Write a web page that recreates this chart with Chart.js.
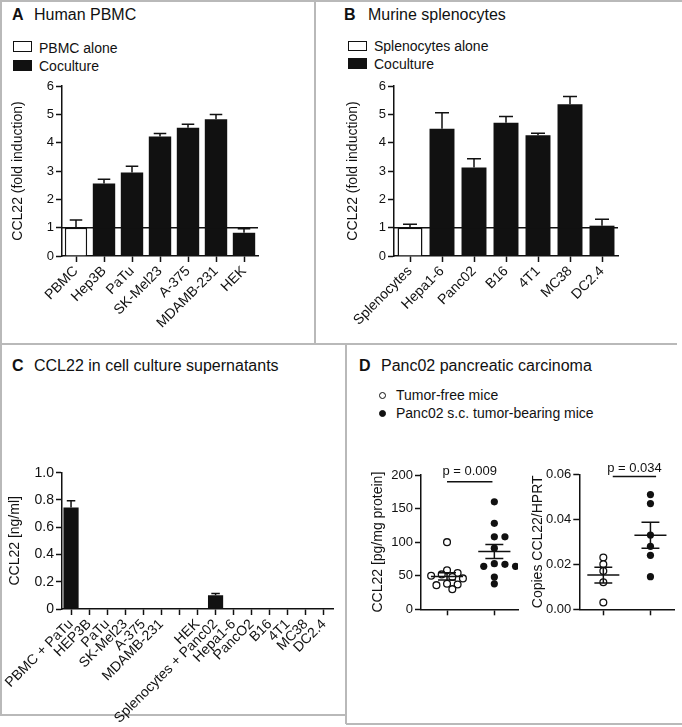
<!DOCTYPE html>
<html><head><meta charset="utf-8">
<script src="https://cdn.jsdelivr.net/npm/chart.js@4.4.1/dist/chart.umd.min.js"></script>
<style>
html,body{margin:0;padding:0;background:#fff;}
#fig{position:relative;width:682px;height:727px;overflow:hidden;font-family:'Liberation Sans',Arial,sans-serif;color:#111;}
canvas{position:absolute;}
.t{position:absolute;white-space:nowrap;}
.h{font-size:16px;line-height:16px;}
.l{font-size:14px;line-height:14px;}
.rule{position:absolute;background:#b9b9b9;}
.sw{position:absolute;box-sizing:border-box;border:1.5px solid #111;}
.dot{position:absolute;box-sizing:border-box;border:1.3px solid #111;border-radius:50%;width:7px;height:7px;}
</style></head><body>
<div id="fig">
  <div class="rule" style="left:0;top:0;width:682px;height:1.5px"></div>
  <div class="rule" style="left:0;top:0;width:1.5px;height:715px"></div>
  <div class="rule" style="left:314px;top:0;width:1.5px;height:344px"></div>
  <div class="rule" style="left:0;top:343px;width:677px;height:1.5px"></div>
  <div class="rule" style="left:345px;top:344px;width:1.5px;height:380px"></div>
  <div class="rule" style="left:0;top:714px;width:346px;height:1.5px"></div>
  <div class="rule" style="left:346px;top:723px;width:336px;height:1.5px"></div>

  <div class="t h" style="left:12px;top:7px;font-weight:bold">A</div>
  <div class="t h" style="left:34px;top:7px">Human PBMC</div>
  <div class="sw" style="left:13px;top:41px;width:19px;height:11px;background:#fff"></div>
  <div class="t l" style="left:39px;top:40.5px">PBMC alone</div>
  <div class="sw" style="left:13px;top:60px;width:19px;height:11px;background:#111"></div>
  <div class="t l" style="left:39px;top:58.8px">Coculture</div>

  <div class="t h" style="left:344px;top:6.5px;font-weight:bold">B</div>
  <div class="t h" style="left:368px;top:6.5px">Murine splenocytes</div>
  <div class="sw" style="left:348px;top:41px;width:19px;height:10px;background:#fff"></div>
  <div class="t l" style="left:374px;top:38.5px">Splenocytes alone</div>
  <div class="sw" style="left:348px;top:58px;width:19px;height:11px;background:#111"></div>
  <div class="t l" style="left:374px;top:56.5px">Coculture</div>

  <div class="t h" style="left:12px;top:358px;font-weight:bold">C</div>
  <div class="t h" style="left:34px;top:358px">CCL22 in cell culture supernatants</div>

  <div class="t h" style="left:359px;top:358px;font-weight:bold">D</div>
  <div class="t h" style="left:381px;top:358px">Panc02 pancreatic carcinoma</div>
  <div class="dot" style="left:378.5px;top:392.2px;background:#fff"></div>
  <div class="t l" style="left:396px;top:388.2px">Tumor-free mice</div>
  <div class="dot" style="left:378.5px;top:409.8px;background:#111"></div>
  <div class="t l" style="left:396px;top:405.5px">Panc02 s.c. tumor-bearing mice</div>

  <canvas id="cA" width="315" height="274" style="left:0;top:70px;width:315px;height:274px"></canvas>
  <canvas id="cB" width="352" height="274" style="left:330px;top:70px;width:352px;height:274px"></canvas>
  <canvas id="cC" width="346" height="277" style="left:0;top:450px;width:346px;height:277px"></canvas>
  <canvas id="cD1" width="170" height="180" style="left:355px;top:455px;width:170px;height:180px"></canvas>
  <canvas id="cD2" width="157" height="180" style="left:525px;top:455px;width:157px;height:180px"></canvas>
</div>
<script>
// ---------- data ----------
const aCategories   = ['PBMC','Hep3B','PaTu','SK-Mel23','A-375','MDAMB-231','HEK'];
const aAlone        = [1.00, null, null, null, null, null, null];
const aAloneErr     = [0.27, null, null, null, null, null, null];
const aCoculture    = [null, 2.56, 2.95, 4.22, 4.53, 4.83, 0.82];
const aCocultureErr = [null, 0.15, 0.22, 0.10, 0.12, 0.16, 0.14];
const foldTicks     = ['0','1','2','3','4','5','6'];
const foldBaseline  = 1;

const bCategories   = ['Splenocytes','Hepa1-6','Panc02','B16','4T1','MC38','DC2.4'];
const bAlone        = [1.00, null, null, null, null, null, null];
const bAloneErr     = [0.12, null, null, null, null, null, null];
const bCoculture    = [null, 4.49, 3.12, 4.70, 4.26, 5.36, 1.07];
const bCocultureErr = [null, 0.57, 0.31, 0.22, 0.07, 0.27, 0.23];

const cCategories = ['PBMC + PaTu','HEP3B','PaTu','SK-Mel23','A-375','MDAMB-231','','HEK',
                     'Splenocytes + Panc02','Hepa1-6','PancO2','B16','4T1','MC38','DC2.4'];
const cValues     = [0.745, null, null, null, null, null, null, null, 0.100, null, null, null, null, null, null];
const cErrors     = [0.050, null, null, null, null, null, null, null, 0.013, null, null, null, null, null, null];
const cTicks      = ['0','0.2','0.4','0.6','0.8','1.0'];

const dGroups        = ['Tumor-free mice','Panc02 s.c. tumor-bearing mice'];
const d1TumorFree    = [100, 58, 54, 52, 50, 48, 46, 38, 37, 36, 30];
const d1TumorBearing = [160, 128, 108, 108, 91, 68, 67, 64, 64, 48, 38];
const d1Mean         = [49, 86];
const d1Sem          = [5.5, 10.5];
const d1Ticks        = ['0','50','100','150','200'];
const d1PText        = 'p = 0.009';
const d1BracketY     = 190;

const d2TumorFree    = [0.023, 0.020, 0.017, 0.012, 0.003];
const d2TumorBearing = [0.051, 0.047, 0.033, 0.028, 0.024, 0.0145];
const d2Mean         = [0.0152, 0.0329];
const d2Sem          = [0.0035, 0.0058];
const d2Ticks        = ['0.00','0.02','0.04','0.06'];
const d2PText        = 'p = 0.034';
const d2BracketY     = 0.059;

// ---------- setup ----------
const INK = '#111';
const FONT = "'Liberation Sans', Arial, sans-serif";
Chart.defaults.font.family = FONT;
Chart.defaults.color = INK;

const errorBars = {
  id: 'errorBars',
  afterDatasetsDraw(chart) {
    const ctx = chart.ctx, ys = chart.scales.y;
    chart.data.datasets.forEach((ds, i) => {
      if (!ds.errors) return;
      const meta = chart.getDatasetMeta(i);
      meta.data.forEach((bar, j) => {
        const v = ds.data[j], e = ds.errors[j];
        if (v == null || e == null) return;
        const x = bar.x, y0 = ys.getPixelForValue(v), y1 = ys.getPixelForValue(v + e);
        const hw = bar.width * 0.28;
        ctx.save();
        ctx.strokeStyle = INK; ctx.lineWidth = 1.5;
        ctx.beginPath();
        ctx.moveTo(x, y0); ctx.lineTo(x, y1);
        ctx.moveTo(x - hw, y1); ctx.lineTo(x + hw, y1);
        ctx.stroke();
        ctx.restore();
      });
    });
  }
};

const refLine = {
  id: 'refLine',
  afterDatasetsDraw(chart, args, opts) {
    if (opts.value == null) return;
    const ctx = chart.ctx, ys = chart.scales.y, a = chart.chartArea;
    const y = ys.getPixelForValue(opts.value);
    ctx.save();
    ctx.strokeStyle = INK; ctx.lineWidth = 1.5;
    ctx.beginPath(); ctx.moveTo(a.left, y); ctx.lineTo(a.right, y); ctx.stroke();
    ctx.restore();
  }
};

const meanSem = {
  id: 'meanSem',
  afterDatasetsDraw(chart, args, opts) {
    if (!opts.means) return;
    const ctx = chart.ctx, xs = chart.scales.x, ys = chart.scales.y;
    ctx.save();
    ctx.strokeStyle = INK; ctx.lineWidth = 1.5;
    opts.means.forEach((m, i) => {
      const c = i + 1, s = opts.sems[i];
      const ym = ys.getPixelForValue(m), yt = ys.getPixelForValue(m + s), yb = ys.getPixelForValue(m - s);
      ctx.beginPath();
      ctx.moveTo(xs.getPixelForValue(c - 0.34), ym); ctx.lineTo(xs.getPixelForValue(c + 0.34), ym);
      ctx.moveTo(xs.getPixelForValue(c), yt); ctx.lineTo(xs.getPixelForValue(c), yb);
      ctx.moveTo(xs.getPixelForValue(c - 0.19), yt); ctx.lineTo(xs.getPixelForValue(c + 0.19), yt);
      ctx.moveTo(xs.getPixelForValue(c - 0.19), yb); ctx.lineTo(xs.getPixelForValue(c + 0.19), yb);
      ctx.stroke();
    });
    ctx.restore();
  }
};

const pBracket = {
  id: 'pBracket',
  afterDraw(chart, args, opts) {
    if (!opts.text) return;
    const ctx = chart.ctx, xs = chart.scales.x, ys = chart.scales.y;
    const y = ys.getPixelForValue(opts.y);
    const x0 = xs.getPixelForValue(opts.x0), x1 = xs.getPixelForValue(opts.x1);
    ctx.save();
    ctx.strokeStyle = INK; ctx.lineWidth = 1.5;
    ctx.beginPath(); ctx.moveTo(x0, y); ctx.lineTo(x1, y); ctx.stroke();
    ctx.fillStyle = INK; ctx.font = '13px ' + FONT;
    ctx.textAlign = 'center'; ctx.textBaseline = 'alphabetic';
    ctx.fillText(opts.text, (x0 + x1) / 2, y - opts.gap);
    ctx.restore();
  }
};

function yAxis(o) {
  return {
    min: o.min, max: o.max,
    grid: { display: true, drawOnChartArea: false, drawTicks: true, tickLength: 6, tickWidth: 1.5, tickColor: INK },
    border: { display: true, color: INK, width: 1.5 },
    ticks: { stepSize: o.step, color: INK, font: { size: o.size || 13 }, padding: 2,
             callback: (v, i) => o.labels[i] },
    title: { display: true, text: o.title, color: INK, font: { size: 14 }, padding: { top: o.tpad, bottom: 0 } },
    afterFit: s => { s.width = o.width; }
  };
}
function xCat(height, size) {
  return {
    grid: { display: true, drawOnChartArea: false, drawTicks: true, tickLength: 6, tickWidth: 1.5, tickColor: INK, offset: false },
    border: { display: true, color: INK, width: 1.5 },
    ticks: { color: INK, font: { size: size }, minRotation: 45, maxRotation: 45, autoSkip: false, padding: 1 },
    afterFit: s => { s.height = height; }
  };
}
function barDs(label, data, errors, fill, bw, bp) {
  return { label, data, errors, backgroundColor: fill, borderColor: INK, borderWidth: bw,
           borderSkipped: 'start', grouped: false, barPercentage: bp, categoryPercentage: 1 };
}
const base = { responsive: false, animation: false, devicePixelRatio: 1 };

// ---------- A ----------
new Chart(document.getElementById('cA'), {
  type: 'bar',
  data: { labels: aCategories, datasets: [
    barDs('PBMC alone', aAlone, aAloneErr, '#fff', 1.5, 0.8),
    barDs('Coculture', aCoculture, aCocultureErr, INK, 0, 0.8)
  ]},
  options: Object.assign({}, base, {
    layout: { padding: { top: 16, right: 57, left: 0, bottom: 0 } },
    plugins: { legend: { display: false }, tooltip: { enabled: false }, refLine: { value: foldBaseline } },
    scales: {
      x: xCat(88, 14),
      y: yAxis({ min: 0, max: 6, step: 1, labels: foldTicks, title: 'CCL22 (fold induction)', tpad: 9.6, width: 62 })
    }
  }),
  plugins: [errorBars, refLine]
});

// ---------- B ----------
new Chart(document.getElementById('cB'), {
  type: 'bar',
  data: { labels: bCategories, datasets: [
    barDs('Splenocytes alone', bAlone, bAloneErr, '#fff', 1.5, 0.78),
    barDs('Coculture', bCoculture, bCocultureErr, INK, 0, 0.78)
  ]},
  options: Object.assign({}, base, {
    layout: { padding: { top: 16, right: 64, left: 0, bottom: 0 } },
    plugins: { legend: { display: false }, tooltip: { enabled: false }, refLine: { value: foldBaseline } },
    scales: {
      x: xCat(88, 14),
      y: yAxis({ min: 0, max: 6, step: 1, labels: foldTicks, title: 'CCL22 (fold induction)', tpad: 14.6, width: 64 })
    }
  }),
  plugins: [errorBars, refLine]
});

// ---------- C ----------
new Chart(document.getElementById('cC'), {
  type: 'bar',
  data: { labels: cCategories, datasets: [
    barDs('CCL22', cValues, cErrors, INK, 0, 0.84)
  ]},
  options: Object.assign({}, base, {
    layout: { padding: { top: 22.7, right: 13, left: 0, bottom: 0 } },
    plugins: { legend: { display: false }, tooltip: { enabled: false } },
    scales: {
      x: Object.assign(xCat(118, 14), {}),
      y: yAxis({ min: 0, max: 1, step: 0.2, labels: cTicks, title: 'CCL22 [ng/ml]', tpad: 6.6, width: 62, size: 14 })
    }
  }),
  plugins: [errorBars]
});

// ---------- D ----------
function dotChart(id, free, bearing, o) {
  const ch = new Chart(document.getElementById(id), {
    type: 'scatter',
    data: { datasets: [
      { label: dGroups[0], data: free.map(v => ({ x: 1, y: v })), pointRadius: 3.4, pointBorderWidth: 1.3,
        pointBackgroundColor: '#fff', pointBorderColor: INK },
      { label: dGroups[1], data: bearing.map(v => ({ x: 2, y: v })), pointRadius: 3.6, pointBorderWidth: 0,
        pointBackgroundColor: INK, pointBorderColor: INK }
    ]},
    options: Object.assign({}, base, {
      layout: { padding: { top: o.top, right: o.right, left: 0, bottom: 0 } },
      plugins: { legend: { display: false }, tooltip: { enabled: false },
                 meanSem: { means: o.means, sems: o.sems },
                 pBracket: { text: o.p, y: o.py, x0: o.px0, x1: o.px1, gap: o.gap } },
      scales: {
        x: { type: 'linear', min: o.xmin, max: 2.5,
             grid: { display: true, drawOnChartArea: false, drawTicks: true, tickLength: 6, tickWidth: 1.5, tickColor: INK },
             border: { display: true, color: INK, width: 1.5 },
             ticks: { callback: () => '' },
             afterBuildTicks: s => { s.ticks = [{ value: 1 }, { value: 2 }]; },
             afterFit: s => { s.height = 25.7; } },
        y: yAxis({ min: 0, max: o.max, step: o.step, labels: o.labels, title: o.title, tpad: o.tpad, width: o.width })
      }
    }),
    plugins: [meanSem, pBracket]
  });
  // simple beeswarm spread so points do not overlap
  const xs = ch.scales.x, ys = ch.scales.y;
  const unit = xs.getPixelForValue(2) - xs.getPixelForValue(1);
  ch.data.datasets.forEach((ds, gi) => {
    const placed = [];
    const centre = xs.getPixelForValue(gi + 1);
    ds.data.forEach(p => {
      const py = ys.getPixelForValue(p.y);
      for (let k = 0; k < 30; k++) {
        const off = (k % 2 === 1 ? 1 : -1) * Math.ceil(k / 2) * 5.3;
        const px = centre + off;
        if (placed.every(q => Math.hypot(q[0] - px, q[1] - py) >= 6.6)) {
          placed.push([px, py]); p.x = (gi + 1) + off / unit; break;
        }
      }
    });
  });
  ch.update('none');
  return ch;
}

dotChart('cD1', d1TumorFree, d1TumorBearing, {
  top: 20, right: 7, xmin: 0.45, max: 200, step: 50, labels: d1Ticks,
  title: 'CCL22 [pg/mg protein]', tpad: 14.6, width: 66,
  means: d1Mean, sems: d1Sem, p: d1PText, py: d1BracketY, px0: 1, px1: 1.96, gap: 6.5
});
dotChart('cD2', d2TumorFree, d2TumorBearing, {
  top: 19.3, right: 8, xmin: 0.49, max: 0.06, step: 0.02, labels: d2Ticks,
  title: 'Copies CCL22/HPRT', tpad: 4.3, width: 54.3,
  means: d2Mean, sems: d2Sem, p: d2PText, py: d2BracketY, px0: 1.2, px1: 2.12, gap: 4.5
});
</script>
</body></html>
